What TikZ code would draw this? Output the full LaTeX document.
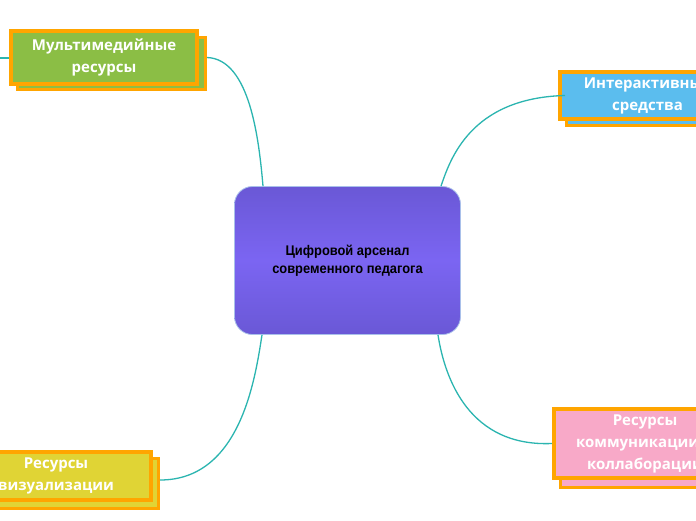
\documentclass[tikz,border=0pt]{standalone}
\usepackage{fontspec}
\setmainfont{Open Sans}
\newfontfamily\centerfont[FakeStretch=0.92]{Liberation Sans}
\definecolor{linkc}{HTML}{2BB5B0}
\definecolor{orangeb}{HTML}{FFA500}
\definecolor{greenf}{HTML}{8BBE45}
\definecolor{bluef}{HTML}{5BBDEE}
\definecolor{pinkf}{HTML}{F8A9C8}
\definecolor{yellowf}{HTML}{E0D435}
\definecolor{purpleA}{HTML}{6A58D6}
\definecolor{purpleB}{HTML}{7B65F2}
\definecolor{purpleEdge}{HTML}{A9C0EA}
\tikzset{
  topicbox/.style={draw=orangeb, line width=4pt, fill=#1, inner sep=0pt,
    text=white, font=\bfseries\fontsize{15}{22}\selectfont, align=center},
  shadowbox/.style={draw=orangeb, line width=3pt, fill=#1, inner sep=0pt},
  link/.style={draw=linkc, line width=1.3pt},
  centerbox/.style={rounded corners=18pt, draw=purpleEdge, line width=0.8pt,
    top color=purpleA, bottom color=purpleA, middle color=purpleB,
    inner sep=0pt, text=black, align=center,
    font=\centerfont\bfseries\fontsize{14}{17.5}\selectfont}
}
\begin{document}
\begin{tikzpicture}[x=1pt,y=-1pt]
\useasboundingbox (0,0) rectangle (696,520);
\clip (0,0) rectangle (696,520);
\fill[white] (0,0) rectangle (696,520);
% central
\node[centerbox, minimum width=226pt, minimum height=148pt] (c) at (347.5,260.5)
  {Цифровой арсенал\\ современного педагога};
% multimedia
\node[shadowbox=greenf, minimum width=188pt, minimum height=52pt] (ms) at (111.5,63.5) {};
\node[topicbox=greenf, minimum width=186pt, minimum height=53pt] (m) at (104,57.5)
  {Мультимедийные\\ ресурсы};
% interactive
\node[shadowbox=bluef, minimum width=176pt, minimum height=47pt] (is) at (654.5,102) {};
\node[topicbox=bluef, minimum width=175pt, minimum height=47pt] (i) at (647.5,95.5)
  {Интерактивные\\ средства};
% pink
\node[shadowbox=pinkf, minimum width=183pt, minimum height=71pt] (ps) at (652,451.5) {};
\node[topicbox=pinkf, minimum width=182pt, minimum height=69pt] (p) at (645,443.5)
  {Ресурсы\\ коммуникации и\\ коллаборации};
% yellow
\node[shadowbox=yellowf, minimum width=191pt, minimum height=50pt] (ys) at (63,483.5) {};
\node[topicbox=yellowf, minimum width=190pt, minimum height=48pt] (y) at (56,476)
  {Ресурсы\\ визуализации};
% connectors
\coordinate (mleft) at (0,58);
\draw[link] (mleft) -- (m.west |- mleft);
\draw[link] (ms.east |- m.east) .. controls (250,59) and (259,140) .. (c.north west -| 263,0);
\draw[link] (is.west |- i.west) .. controls (470,98) and (450,160) .. (c.north east -| 441,0);
\draw[link] (p.west) .. controls (470,447) and (445,380) .. (c.south east -| 438,0);
\draw[link] (ys.east |- 0,480) .. controls (240,480) and (255,380) .. (c.south west -| 262,0);
\end{tikzpicture}
\end{document}
